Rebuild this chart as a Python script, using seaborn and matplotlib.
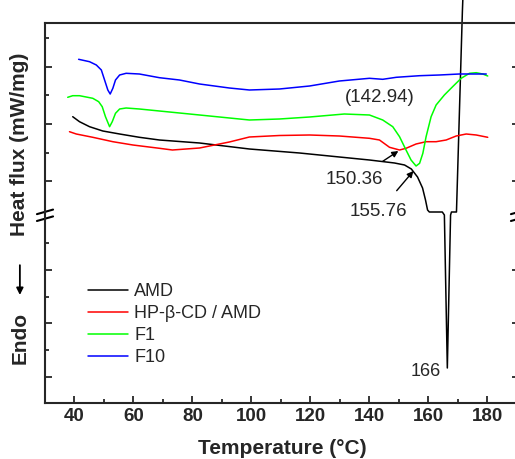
import numpy as np
import matplotlib
matplotlib.use('Agg')
import matplotlib.pyplot as plt
import seaborn as sns
import pandas as pd

# DSC curves (temperature in degC, heat flux in arbitrary offset units)
amd_T = [39.4, 41.7, 45.1, 49.6, 55.3, 62.0, 68.8, 82.4, 99.3, 116.3, 129.8, 140.0,
         148.5, 151.9, 154.2, 156.3, 158.0, 159.0, 159.7, 160.3, 164.7, 165.4, 166.4,
         167.5, 167.8, 169.5, 171.5, 171.9]
amd_hf = [28.63, 28.13, 27.63, 27.2, 26.9, 26.57, 26.3, 26.0, 25.4, 25.0, 24.6, 24.3,
          24.0, 23.8, 23.4, 22.6, 21.5, 20.3, 19.3, 19.1, 19.1, 18.8, 3.5,
          18.8, 19.1, 19.1, 39.1, 42.3]

cd_T = [38.3, 40.6, 46.2, 53.0, 59.8, 68.8, 73.2, 82.4, 92.5, 99.3, 109.5, 119.7,
        129.8, 140.0, 143.4, 146.8, 150.2, 152.4, 155.8, 159.2, 162.6, 166.0, 169.4,
        172.8, 176.2, 180.1]
cd_hf = [27.13, 26.9, 26.57, 26.13, 25.8, 25.47, 25.3, 25.5, 26.1, 26.6, 26.75, 26.8,
         26.7, 26.47, 26.3, 25.57, 25.3, 25.47, 25.9, 26.13, 26.13, 26.3, 26.7,
         26.9, 26.8, 26.57]

f1_T = [37.7, 39.4, 41.7, 46.2, 48.2, 49.4, 50.5, 51.9, 52.8, 53.9, 55.3, 57.5,
        62.0, 68.8, 82.4, 99.3, 109.5, 119.7, 131.5, 140.0, 144.5, 147.9, 150.2,
        152.4, 154.1, 155.8, 157.0, 158.1, 159.2, 160.9, 162.6, 165.4, 168.2, 171.1,
        173.9, 176.2, 178.4, 180.1]
f1_hf = [30.57, 30.73, 30.73, 30.47, 30.13, 29.63, 28.63, 27.63, 28.13, 28.97, 29.4, 29.5,
         29.4, 29.2, 28.8, 28.3, 28.4, 28.6, 28.9, 28.8, 28.3, 27.63, 26.63,
         25.3, 24.3, 23.7, 23.97, 24.97, 26.63, 28.63, 29.8, 30.8, 31.63, 32.47,
         32.97, 33.03, 32.9, 32.7]

f10_T = [41.4, 45.1, 47.4, 49.1, 50.2, 51.3, 52.1, 53.0, 53.9, 55.3, 57.5, 62.0,
         68.8, 75.6, 82.4, 92.5, 99.3, 109.5, 119.7, 129.8, 140.0, 144.5, 149.1,
         157.0, 163.7, 170.5, 179.6]
f10_hf = [34.37, 34.13, 33.8, 33.3, 32.3, 31.3, 30.9, 31.47, 32.3, 32.8, 32.97, 32.9,
          32.53, 32.3, 31.9, 31.5, 31.3, 31.4, 31.7, 32.2, 32.47, 32.37, 32.57,
          32.73, 32.8, 32.9, 32.9]

labels = ['AMD', 'HP-\u03b2-CD / AMD', 'F1', 'F10']
colors = ['#000000', '#ff0000', '#00ff00', '#0000ff']

x_major = np.arange(40, 181, 20)
x_minor = np.arange(50, 171, 20)
y_major = [33.6, 27.9, 22.2, 13.3, 8.0, 2.6]
y_minor = [36.5, 30.8, 25.0, 16.0, 10.6, 5.3]

sns.set_style('ticks')
plt.rcParams['font.family'] = ['Liberation Sans', 'DejaVu Sans']

fig = plt.figure(figsize=(5.15, 4.59), dpi=100)
ax = fig.add_axes([45 / 515, 56 / 459, 474 / 515, 380 / 459])

series = [(amd_T, amd_hf), (cd_T, cd_hf), (f1_T, f1_hf), (f10_T, f10_hf)]
for (t, hf), lab, col in zip(series, labels, colors):
    df = pd.DataFrame({'T': t, 'hf': hf})
    sns.lineplot(data=df, x='T', y='hf', ax=ax, color=col, lw=1.1,
                 sort=False, estimator=None, label=lab)
ax.lines[0].set_clip_on(False)

ax.set_xlim(30, 190.7)
ax.set_ylim(0, 38)
ax.set_xticks(x_major)
ax.set_xticks(x_minor, minor=True)
ax.set_yticks(y_major)
ax.set_yticks(y_minor, minor=True)
ax.set_yticklabels([])
ax.tick_params(which='both', direction='in', width=1.3, left=True, right=True,
               top=False, bottom=True)
ax.tick_params(which='major', length=5)
ax.tick_params(which='minor', length=3)
for lbl in ax.get_xticklabels():
    lbl.set_fontweight('bold')
    lbl.set_fontsize(13.5)
for s in ax.spines.values():
    s.set_linewidth(1.5)

ax.set_xlabel('Temperature (\u00b0C)', fontsize=15, fontweight='bold', labelpad=10)
ax.set_ylabel('')

# y label pieces: Endo, arrow, Heat flux
ax.text(-0.053, 0.68, 'Heat flux (mW/mg)', transform=ax.transAxes, rotation=90,
        ha='center', va='center', fontsize=15, fontweight='bold')
ax.text(-0.053, 0.17, 'Endo', transform=ax.transAxes, rotation=90,
        ha='center', va='center', fontsize=15, fontweight='bold')
ax.annotate('', xy=(-0.053, 0.277), xytext=(-0.053, 0.37),
            xycoords='axes fraction', textcoords='axes fraction',
            arrowprops=dict(arrowstyle='-|>', color='black', lw=1.3,
                            mutation_scale=10))

# axis break marks
for xb in (0.0, 1.0):
    for y0 in (0.479, 0.497):
        ax.plot([xb - 0.017, xb + 0.017], [y0, y0 + 0.012], color='black', lw=1.5,
                transform=ax.transAxes, clip_on=False)

# annotations
ax.text(143.4, 30.6, '(142.94)', ha='center', va='center', fontsize=13.5)
ax.annotate('150.36', xy=(149.8, 25.2), xytext=(134.9, 22.3), ha='center',
            va='center', fontsize=13.5,
            arrowprops=dict(arrowstyle='-|>', color='black', lw=1,
                            mutation_scale=9, shrinkA=9, shrinkB=0))
ax.annotate('155.76', xy=(154.9, 23.2), xytext=(143.1, 19.1), ha='center',
            va='center', fontsize=13.5,
            arrowprops=dict(arrowstyle='-|>', color='black', lw=1,
                            mutation_scale=9, shrinkA=9, shrinkB=0))
ax.text(159.0, 3.1, '166', ha='center', va='center', fontsize=13)

ax.legend(loc='upper left', bbox_to_anchor=(0.091, 0.315), frameon=False,
          fontsize=13, handlelength=2.2, handletextpad=0.35, labelspacing=0.27,
          borderpad=0, borderaxespad=0)

fig.savefig('out.png', dpi=100)
